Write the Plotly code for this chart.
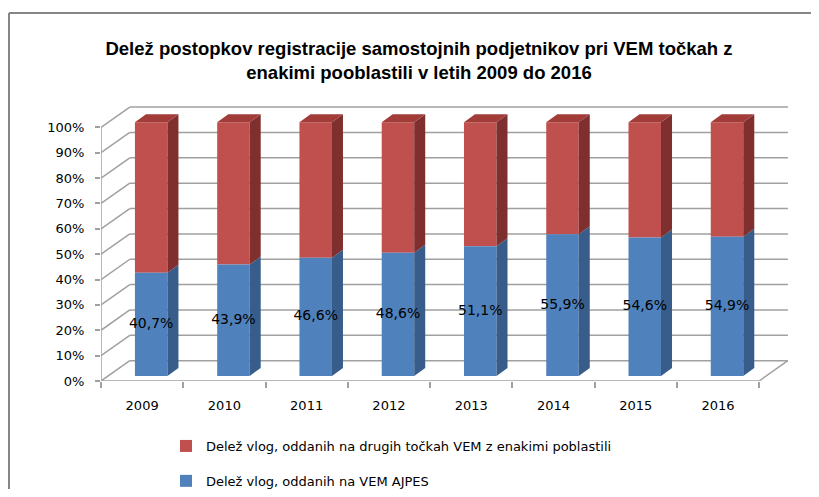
import plotly.graph_objects as go

years = ["2009", "2010", "2011", "2012", "2013", "2014", "2015", "2016"]
ajpes = [40.7, 43.9, 46.6, 48.6, 51.1, 55.9, 54.6, 54.9]
other = [round(100 - v, 1) for v in ajpes]
y_ticks = [i / 10 for i in range(11)]
y_tick_text = [f"{i*10}%" for i in range(11)]

name_red = "Delež vlog, oddanih na drugih točkah VEM z enakimi poblastili"
name_blue = "Delež vlog, oddanih na VEM AJPES"
title = "<b>Delež postopkov registracije samostojnih podjetnikov pri VEM točkah z<br>enakimi pooblastili v letih 2009 do 2016</b>"

# pseudo-3D geometry (data units)
DX, DY = 0.35, 0.08          # depth of the wall/floor
OFF, W = 0.11, 0.395         # bar front face shift and width
BASE = 0.02                  # bar front bottom lifted by depth
SDX, SDY = 0.134, 0.0315     # bar side depth

BLUE, BLUE_S = "#4F81BD", "#385D8A"
RED, RED_S, RED_T = "#C0504D", "#7F302E", "#A13C39"
GRID = "#A0A0A0"

n = len(years)
xc = [i + 0.5 + OFF for i in range(n)]
b_vals = [v / 100 for v in ajpes]
r_vals = [v / 100 for v in other]

fig = go.Figure()
fig.add_trace(go.Bar(
    x=xc, y=r_vals, base=[BASE + b for b in b_vals], width=W, name=name_red,
    marker=dict(color=RED, line=dict(width=0)),
    legendgroup="r", hoverinfo="skip"))
fig.add_trace(go.Bar(
    x=xc, y=b_vals, base=[BASE] * n, width=W, name=name_blue,
    marker=dict(color=BLUE, line=dict(width=0)),
    legendgroup="b", hoverinfo="skip"))


def side_poly(lo, hi):
    xs, ys = [], []
    for i in range(n):
        x1 = xc[i] + W / 2
        xs += [x1, x1 + SDX, x1 + SDX, x1, x1, None]
        ys += [lo[i], lo[i] + SDY, hi[i] + SDY, hi[i], lo[i], None]
    return xs, ys


lo_b = [BASE] * n
hi_b = [BASE + b for b in b_vals]
hi_r = [hb + r for hb, r in zip(hi_b, r_vals)]
xs, ys = side_poly(lo_b, hi_b)
fig.add_trace(go.Scatter(x=xs, y=ys, mode="lines", fill="toself", fillcolor=BLUE_S,
                         line=dict(width=0, color=BLUE_S), showlegend=False, hoverinfo="skip"))
xs, ys = side_poly(hi_b, hi_r)
fig.add_trace(go.Scatter(x=xs, y=ys, mode="lines", fill="toself", fillcolor=RED_S,
                         line=dict(width=0, color=RED_S), showlegend=False, hoverinfo="skip"))
tx, ty = [], []
for i in range(n):
    x0, x1 = xc[i] - W / 2, xc[i] + W / 2
    tx += [x0, x0 + SDX, x1 + SDX, x1, x0, None]
    ty += [hi_r[i], hi_r[i] + SDY, hi_r[i] + SDY, hi_r[i], hi_r[i], None]
fig.add_trace(go.Scatter(x=tx, y=ty, mode="lines", fill="toself", fillcolor=RED_T,
                         line=dict(width=0, color=RED_T), showlegend=False, hoverinfo="skip"))

# data labels, centred in the blue segments
fig.add_trace(go.Scatter(
    x=xc, y=[BASE + b / 2 for b in b_vals], mode="text",
    text=[f"{v:.1f}%".replace(".", ",") for v in ajpes],
    textposition="middle center",
    textfont=dict(family="DejaVu Sans", size=14, color="black"),
    showlegend=False, hoverinfo="skip", cliponaxis=False))

# walls, floor and axes (drawn below the bars)
shapes = []
ln = dict(color=GRID, width=1.5)
for v in y_ticks:
    shapes.append(dict(type="line", xref="x", yref="y", x0=0, y0=v, x1=DX, y1=v + DY, line=ln, layer="below"))
    shapes.append(dict(type="line", xref="x", yref="y", x0=DX, y0=v + DY, x1=n + DX, y1=v + DY, line=ln, layer="below"))
shapes.append(dict(type="line", xref="x", yref="y", x0=0, y0=0, x1=0, y1=1, line=ln, layer="below"))
shapes.append(dict(type="line", xref="x", yref="y", x0=0, y0=0, x1=n, y1=0, line=ln, layer="below"))
shapes.append(dict(type="line", xref="x", yref="y", x0=n, y0=0, x1=n + DX, y1=DY, line=ln, layer="below"))

# the page has an 8px body margin: figure pixel = screen pixel - 8
FW, FH = 803, 481
SH = 8
L, T = 101 - SH, 102 - SH
R = FW - (792 - SH)
B = FH - (381 - SH)
PW, PH = FW - L - R, FH - T - B
def px(p): return (p - SH - L) / PW
def py(p): return (FH - B - (p - SH)) / PH
def cx(p): return (p - SH) / FW
def cy(p): return 1 - (p - SH) / FH

# outer chart border (only top and left edges are inside the picture)
bl = dict(color="#868686", width=2)
shapes.append(dict(type="line", xref="paper", yref="paper", x0=px(9), y0=py(13), x1=px(811), y1=py(13), line=bl))
shapes.append(dict(type="line", xref="paper", yref="paper", x0=px(9), y0=py(13), x1=px(9), y1=py(489), line=bl))

fig.update_layout(
    width=FW, height=FH,
    margin=dict(l=L, r=R, t=T, b=B, autoexpand=False),
    paper_bgcolor="white", plot_bgcolor="white",
    barmode="overlay",
    shapes=shapes,
    title=dict(text=title, x=cx(419), xref="container", xanchor="center", y=cy(55), yref="container", yanchor="middle",
               font=dict(family="Liberation Sans", size=18.5, color="black")),
    xaxis=dict(range=[0, n + 0.4], tickvals=[i + 0.5 for i in range(n)], ticktext=years,
               ticks="", showgrid=False, zeroline=False, showline=False, ticklabelstandoff=15,
               tickfont=dict(family="DejaVu Sans", size=13, color="black"),
               minor=dict(tickvals=list(range(n + 1)), ticks="outside", ticklen=6, tickcolor=GRID, tickwidth=1.5, showgrid=False)),
    yaxis=dict(range=[0, 1.1], tickvals=y_ticks, ticktext=y_tick_text, ticks="outside", ticklen=5,
               tickcolor=GRID, tickwidth=1.5, showgrid=False, zeroline=False, showline=False,
               ticklabelstandoff=8,
               tickfont=dict(family="DejaVu Sans", size=13, color="black")),
    legend=dict(x=cx(166), y=cy(431), xref="container", yref="container",
                xanchor="left", yanchor="top", orientation="v",
                traceorder="grouped", tracegroupgap=15,
                font=dict(family="DejaVu Sans", size=13, color="black"), bgcolor="rgba(0,0,0,0)"),
    showlegend=True,
)

fig.write_html("out.html")
